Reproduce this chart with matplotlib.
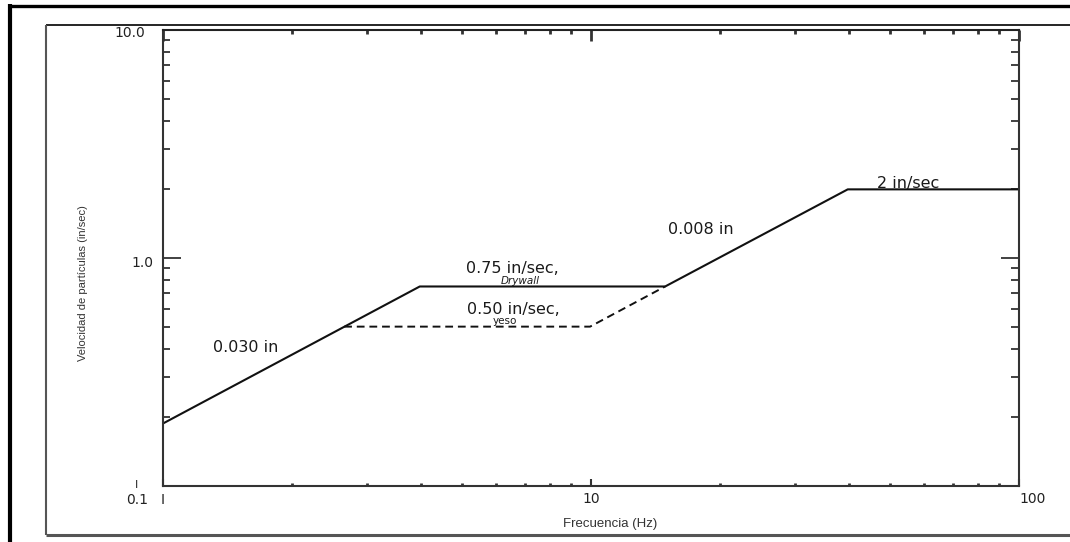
import matplotlib
matplotlib.use('Agg')
import matplotlib.pyplot as plt
from matplotlib.lines import Line2D
from matplotlib.ticker import LogLocator, NullFormatter, FixedLocator

# Vibration limit curves (particle velocity vs frequency)
freq_drywall = [1.0, 3.98, 14.9, 39.8, 100.0]
vel_drywall = [0.188, 0.75, 0.75, 2.0, 2.0]
freq_yeso = [2.65, 9.95, 14.9]
vel_yeso = [0.5, 0.5, 0.75]

x_ticks = [1, 10, 100]
x_tick_labels = ['I', '10', '100']
y_ticks = [0.1, 1, 10]
y_tick_labels = ['0.1', '1.0', '10.0']

W, H = 1070, 542
fig = plt.figure(figsize=(W / 100, H / 100), dpi=100)
fig.patch.set_facecolor('white')

# page frames
def fline(x0, y0, x1, y1, lw, color):
    fig.add_artist(Line2D([x0 / W, x1 / W], [1 - y0 / H, 1 - y1 / H],
                          transform=fig.transFigure, lw=lw, color=color,
                          solid_capstyle='butt'))

fline(8, 5.5, W, 5.5, 2.4, 'black')
fline(10, 4, 10, H, 3.0, 'black')
fline(46, 25, W, 25, 1.2, 'black')
fline(46, 25, 46, 535, 1.5, '#555555')
fline(46, 535, W, 535, 2.2, '#555555')

ax_l, ax_r, ax_t, ax_b = 163, 1019, 30, 486
ax = fig.add_axes([ax_l / W, 1 - ax_b / H, (ax_r - ax_l) / W, (ax_b - ax_t) / H])
ax.set_xscale('log')
ax.set_yscale('log')
ax.set_xlim(1, 100)
ax.set_ylim(0.1, 10)

ax.plot(freq_drywall, vel_drywall, color='#111111', lw=1.5)
ax.plot(freq_yeso, vel_yeso, color='#111111', lw=1.4, ls=(0, (4, 2.5)))

for side, sp in ax.spines.items():
    sp.set_linewidth(1.5)
    sp.set_color('#333333')
ax.spines['top'].set_color('#222222')

# bottom / left ticks
ax.xaxis.set_major_locator(FixedLocator(x_ticks))
ax.xaxis.set_minor_locator(LogLocator(base=10, subs=range(2, 10)))
ax.yaxis.set_major_locator(FixedLocator(y_ticks))
ax.yaxis.set_minor_locator(LogLocator(base=10, subs=range(2, 10)))
ax.xaxis.set_major_formatter(NullFormatter())
ax.xaxis.set_minor_formatter(NullFormatter())
ax.yaxis.set_major_formatter(NullFormatter())
ax.yaxis.set_minor_formatter(NullFormatter())
ax.tick_params(axis='x', which='major', direction='in', length=5, width=1.5, color='#333333')
ax.tick_params(axis='x', which='minor', direction='in', length=2.5, width=2.0, color='#333333')
ax.tick_params(axis='y', which='major', direction='in', length=13, width=1.3, color='#333333')
ax.tick_params(axis='y', which='minor', direction='in', length=5, width=1.3, color='#333333')

# top / right ticks
top = ax.secondary_xaxis('top')
top.xaxis.set_major_locator(FixedLocator(x_ticks))
top.xaxis.set_minor_locator(LogLocator(base=10, subs=range(2, 10)))
top.xaxis.set_major_formatter(NullFormatter())
top.xaxis.set_minor_formatter(NullFormatter())
top.tick_params(which='major', direction='in', length=8, width=2.0, color='#333333')
top.tick_params(which='minor', direction='in', length=3, width=2.0, color='#333333')
top.spines['top'].set_visible(False)

right = ax.secondary_yaxis('right')
right.yaxis.set_major_locator(FixedLocator(y_ticks))
right.yaxis.set_minor_locator(LogLocator(base=10, subs=range(2, 10)))
right.yaxis.set_major_formatter(NullFormatter())
right.yaxis.set_minor_formatter(NullFormatter())
right.tick_params(which='major', direction='in', length=13, width=1.3, color='#333333')
right.tick_params(which='minor', direction='in', length=6, width=1.3, color='#333333')
right.spines['right'].set_visible(False)

px = 72 / 100  # points per pixel
tick_font = dict(family='DejaVu Sans', fontsize=10, color='#222222')

# y tick labels
y_offsets = {0.1: (-15, -14), 1: (-10, -5), 10: (-18, -3)}
for v, lab in zip(y_ticks, y_tick_labels):
    dx, dy = y_offsets[v]
    ax.annotate(lab, xy=(0, v), xycoords=('axes fraction', 'data'),
                xytext=(dx * px, dy * px), textcoords='offset points',
                ha='right', va='center', **tick_font)
ax.annotate('I', xy=(0, 0.1), xycoords=('axes fraction', 'data'),
            xytext=(-26 * px, 1 * px), textcoords='offset points',
            ha='center', va='center', family='DejaVu Sans', fontsize=8, color='#222222')

# x tick labels
x_offsets = {1: (0, -14), 10: (0, -13), 100: (14, -13)}
for v, lab in zip(x_ticks, x_tick_labels):
    dx, dy = x_offsets[v]
    ax.annotate(lab, xy=(v, 0), xycoords=('data', 'axes fraction'),
                xytext=(dx * px, dy * px), textcoords='offset points',
                ha='center', va='center', **tick_font)

# axis titles
ax.text(610 / W, 1 - 524 / H, 'Frecuencia (Hz)', transform=fig.transFigure,
        ha='center', va='center', fontsize=9.5, color='#333333',
        family=['Liberation Sans', 'DejaVu Sans'])
ax.text(83 / W, 1 - 283 / H, 'Velocidad de partículas (in/sec)', transform=fig.transFigure,
        ha='center', va='center', rotation=90, fontsize=8, color='#333333',
        family=['Liberation Sans Narrow', 'Liberation Sans', 'DejaVu Sans'])

# curve annotations
lab_font = dict(family='DejaVu Sans', color='#1a1a1a', ha='center', va='center')
ax.text(1.56, 0.405, '0.030 in', fontsize=11.5, **lab_font)
ax.text(6.54, 0.90, '0.75 in/sec,', fontsize=11.5, **lab_font)
ax.text(6.82, 0.790, 'Drywall', fontsize=7.5, style='italic', **lab_font)
ax.text(6.57, 0.595, '0.50 in/sec,', fontsize=11.5, **lab_font)
ax.text(6.3, 0.527, 'yeso', fontsize=7.5, **lab_font)
ax.text(18.1, 1.34, '0.008 in', fontsize=11.5, **lab_font)
ax.text(55.0, 2.12, '2 in/sec', fontsize=11.5, **lab_font)

fig.savefig('out.png', dpi=100, facecolor='white')
